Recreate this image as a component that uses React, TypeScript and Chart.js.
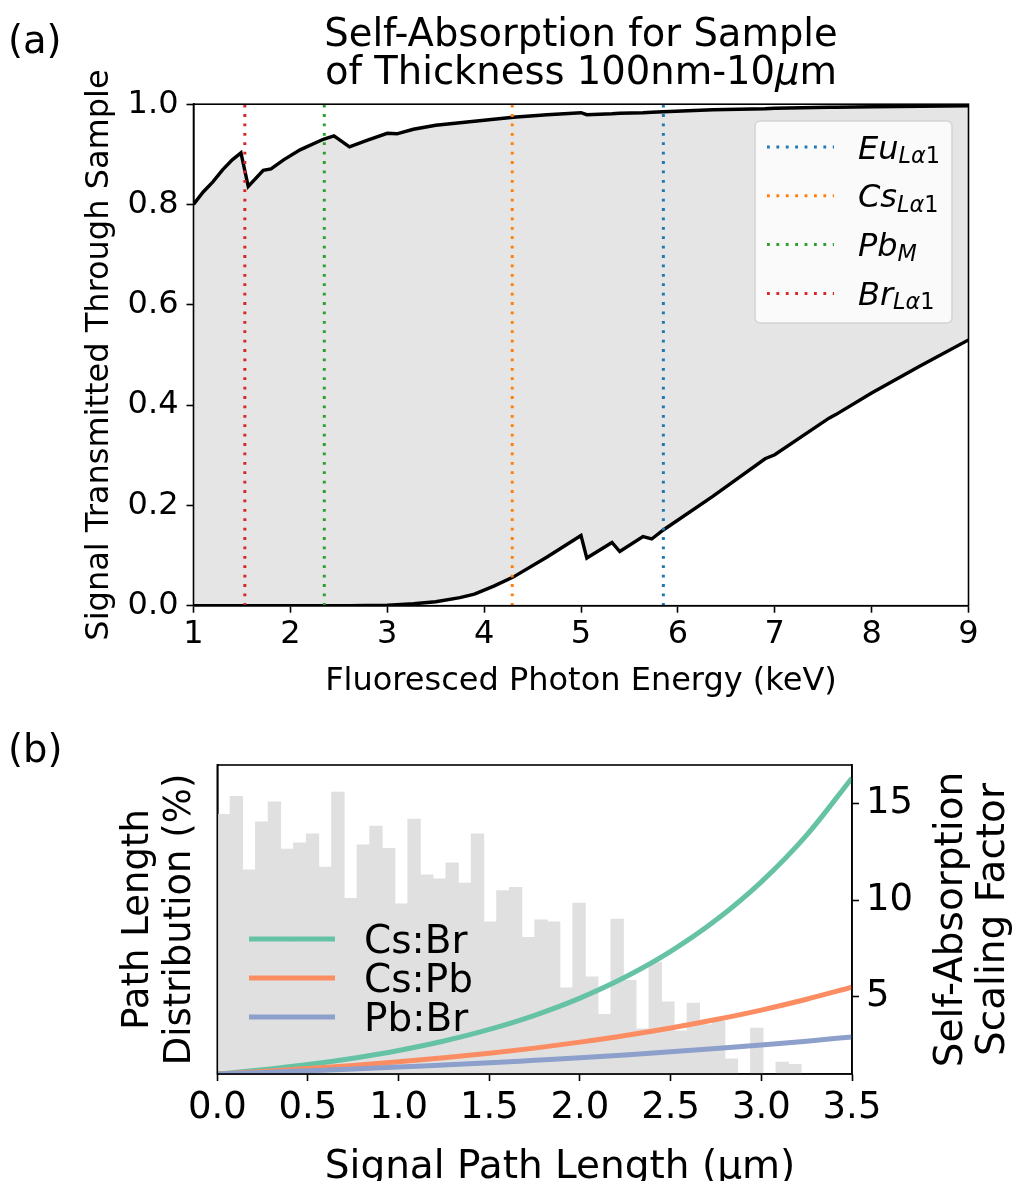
import React, { useEffect, useRef } from "react";
import { Chart, registerables } from "chart.js";
Chart.register(...registerables);

const FAM = "'DejaVu Sans', sans-serif";

// ---------- Panel (a) data ----------
const photonEnergy = [1.0, 1.1, 1.2, 1.3, 1.4, 1.49, 1.565, 1.72, 1.8, 1.93, 2.1, 2.34, 2.45, 2.61, 2.79, 3.0, 3.1, 3.27, 3.5, 3.75, 3.9, 4.1, 4.3, 4.65, 5.0, 5.06, 5.32, 5.4, 5.64, 5.73, 5.85, 6.36, 6.9, 7.0, 7.56, 7.63, 8.0, 8.5, 9.0];
const transmissionThin = [0.8, 0.825, 0.845, 0.869, 0.889, 0.903, 0.836, 0.868, 0.871, 0.889, 0.909, 0.93, 0.937, 0.915, 0.928, 0.942, 0.941, 0.95, 0.958, 0.963, 0.966, 0.97, 0.974, 0.979, 0.983, 0.979, 0.981, 0.982, 0.983, 0.984, 0.985, 0.989, 0.991, 0.992, 0.994, 0.994, 0.995, 0.996, 0.997];
const transmissionThick = [0, 0, 0, 0, 0, 0, 0, 0, 0, 0, 0, 0, 0, 0.0002, 0.0005, 0.001, 0.002, 0.004, 0.008, 0.016, 0.023, 0.039, 0.057, 0.097, 0.14, 0.095, 0.126, 0.108, 0.138, 0.133, 0.151, 0.218, 0.293, 0.301, 0.374, 0.381, 0.424, 0.478, 0.53];
const emissionElements = ["Eu", "Cs", "Pb", "Br"];
const emissionSubs = ["Lα1", "Lα1", "M", "Lα1"];
const emissionEnergies = [5.85, 4.29, 2.35, 1.53];
const emissionColors = ["#1f77b4", "#ff7f0e", "#2ca02c", "#d62728"];
const xTicksA = [1, 2, 3, 4, 5, 6, 7, 8, 9];
const yTicksA = [0, 0.2, 0.4, 0.6, 0.8, 1.0];

// ---------- Panel (b) data ----------
const binCenters = [0.035, 0.105, 0.175, 0.245, 0.315, 0.385, 0.455, 0.525, 0.595, 0.665, 0.735, 0.805, 0.875, 0.945, 1.015, 1.085, 1.155, 1.225, 1.295, 1.365, 1.435, 1.505, 1.575, 1.645, 1.715, 1.785, 1.855, 1.925, 1.995, 2.065, 2.135, 2.205, 2.275, 2.345, 2.415, 2.485, 2.555, 2.625, 2.695, 2.765, 2.835, 2.905, 2.975, 3.045, 3.115, 3.185, 3.255, 3.325, 3.395, 3.465];
const pathDistribution = [3.74, 4.0, 2.94, 3.63, 3.92, 3.24, 3.33, 3.46, 2.98, 4.06, 2.53, 3.3, 3.57, 3.25, 2.45, 3.67, 2.87, 2.81, 3.04, 2.75, 3.46, 2.19, 2.64, 2.69, 1.97, 2.22, 2.19, 1.24, 2.46, 1.4, 0.86, 2.23, 1.35, 0.65, 1.61, 1.04, 0.62, 1.02, 0.71, 0.76, 0.22, 0, 0.66, 0, 0.17, 0.14, 0, 0, 0, 0];
const pathGrid = [0, 0.25, 0.5, 0.75, 1.0, 1.25, 1.5, 1.75, 2.0, 2.25, 2.5, 2.75, 3.0, 3.25, 3.5];
const scaleCsBr = [1.0, 1.22, 1.49, 1.82, 2.22, 2.71, 3.31, 4.04, 4.93, 6.02, 7.35, 8.97, 10.95, 13.37, 16.33];
const scaleCsPb = [1.0, 1.13, 1.28, 1.44, 1.63, 1.84, 2.07, 2.34, 2.65, 2.99, 3.38, 3.82, 4.31, 4.87, 5.5];
const scalePbBr = [1.0, 1.08, 1.17, 1.26, 1.36, 1.47, 1.58, 1.71, 1.84, 1.99, 2.15, 2.32, 2.5, 2.7, 2.92];
const ratioNames = ["Cs:Br", "Cs:Pb", "Pb:Br"];
const ratioColors = ["#66c2a5", "#fc8d62", "#8da0cb"];
const xTicksB = [0, 0.5, 1.0, 1.5, 2.0, 2.5, 3.0, 3.5];
const y2TicksB = [5, 10, 15];

type Run = { t: string; f: string; dy?: number };
function drawRuns(ctx: CanvasRenderingContext2D, x: number, y: number, runs: Run[], align: "left" | "center") {
  let w = 0;
  for (const r of runs) { ctx.font = r.f; w += ctx.measureText(r.t).width; }
  let cx = align === "center" ? x - w / 2 : x;
  ctx.textAlign = "left";
  ctx.textBaseline = "alphabetic";
  for (const r of runs) {
    ctx.font = r.f;
    ctx.fillText(r.t, cx, y + (r.dy || 0));
    cx += ctx.measureText(r.t).width;
  }
}
function rotText(ctx: CanvasRenderingContext2D, text: string, x: number, y: number, font: string) {
  ctx.save();
  ctx.translate(x, y);
  ctx.rotate(-Math.PI / 2);
  ctx.font = font;
  ctx.textAlign = "center";
  ctx.textBaseline = "alphabetic";
  ctx.fillText(text, 0, 0);
  ctx.restore();
}
function frame(chart: any) {
  const { left, right, top, bottom } = chart.chartArea;
  const ctx = chart.ctx;
  ctx.save();
  ctx.strokeStyle = "#000";
  ctx.lineWidth = 1.6;
  ctx.strokeRect(left, top, right - left, bottom - top);
  ctx.restore();
}

const axisGrid = { drawOnChartArea: false, drawTicks: true, tickLength: 7, tickWidth: 1.6, tickColor: "#000", color: "#000" };

function topConfig(): any {
  const vlines = emissionEnergies.map((e, i) => ({
    data: [{ x: e, y: 0 }, { x: e, y: 1 }],
    borderColor: emissionColors[i],
    borderWidth: 3,
    borderDash: [2.8, 6.6],
    pointRadius: 0,
    fill: false,
  }));
  const upper = {
    data: photonEnergy.map((e, i) => ({ x: e, y: transmissionThin[i] })),
    borderColor: "#000",
    borderWidth: 3.4,
    pointRadius: 0,
    fill: "+1",
    backgroundColor: "#e5e5e5",
  };
  const lower = {
    data: photonEnergy.map((e, i) => ({ x: e, y: transmissionThick[i] })),
    borderColor: "#000",
    borderWidth: 3.4,
    pointRadius: 0,
    fill: false,
  };
  const legendPlugin = {
    id: "legendA",
    afterDatasetsDraw(chart: any) {
      const ctx = chart.ctx as CanvasRenderingContext2D;
      ctx.save();
      const bx = 755, by = 121, bw = 197, bh = 202, r = 5;
      ctx.beginPath();
      ctx.moveTo(bx + r, by);
      ctx.arcTo(bx + bw, by, bx + bw, by + bh, r);
      ctx.arcTo(bx + bw, by + bh, bx, by + bh, r);
      ctx.arcTo(bx, by + bh, bx, by, r);
      ctx.arcTo(bx, by, bx + bw, by, r);
      ctx.closePath();
      ctx.fillStyle = "rgba(255,255,255,0.8)";
      ctx.fill();
      ctx.strokeStyle = "#d4d4d4";
      ctx.lineWidth = 1.5;
      ctx.stroke();
      for (let i = 0; i < emissionElements.length; i++) {
        const ly = 147 + i * 48.8;
        ctx.beginPath();
        ctx.setLineDash([2.8, 6.6]);
        ctx.strokeStyle = emissionColors[i];
        ctx.lineWidth = 3;
        ctx.moveTo(767, ly);
        ctx.lineTo(834, ly);
        ctx.stroke();
        ctx.setLineDash([]);
        ctx.fillStyle = "#000";
        const sub = emissionSubs[i];
        const runs: Run[] = [{ t: emissionElements[i], f: `italic 32px ${FAM}` }];
        if (sub === "M") runs.push({ t: "M", f: `italic 22.4px ${FAM}`, dy: 4.5 });
        else {
          runs.push({ t: "Lα", f: `italic 22.4px ${FAM}`, dy: 4.5 });
          runs.push({ t: "1", f: `22.4px ${FAM}`, dy: 4.5 });
        }
        drawRuns(ctx, 858, ly + 11.5, runs, "left");
      }
      ctx.restore();
    },
    afterDraw(chart: any) {
      frame(chart);
      const ctx = chart.ctx as CanvasRenderingContext2D;
      ctx.save();
      ctx.fillStyle = "#000";
      drawRuns(ctx, 8, 53, [{ t: "(a)", f: `38.5px ${FAM}` }], "left");
      drawRuns(ctx, 581, 46, [{ t: "Self-Absorption for Sample", f: `38.5px ${FAM}` }], "center");
      drawRuns(ctx, 581, 84, [
        { t: "of Thickness 100nm-10", f: `38.5px ${FAM}` },
        { t: "μ", f: `italic 38.5px ${FAM}` },
        { t: "m", f: `38.5px ${FAM}` },
      ], "center");
      drawRuns(ctx, 581, 690, [{ t: "Fluoresced Photon Energy (keV)", f: `32px ${FAM}` }], "center");
      rotText(ctx, "Signal Transmitted Through Sample", 108, 355, `32px ${FAM}`);
      ctx.restore();
    },
  };
  return {
    type: "line",
    data: { datasets: [...vlines, upper, lower] },
    options: {
      responsive: false,
      animation: false,
      devicePixelRatio: 1,
      events: [],
      layout: { padding: { left: 0, right: 51.5, top: 104.2, bottom: 0 } },
      plugins: { legend: { display: false }, tooltip: { enabled: false }, filler: { drawTime: "beforeDatasetsDraw" } },
      elements: { line: { tension: 0 } },
      scales: {
        x: {
          type: "linear",
          min: 1,
          max: 9,
          afterBuildTicks: (s: any) => { s.ticks = xTicksA.map((v) => ({ value: v })); },
          ticks: { font: { family: FAM, size: 32 }, color: "#000", padding: 3, maxRotation: 0, autoSkip: false, callback: (v: any) => String(v) },
          grid: axisGrid,
          border: { display: true, color: "#000", width: 1.6 },
          afterFit: (s: any) => { s.height = 94.3; },
        },
        y: {
          type: "linear",
          min: 0,
          max: 1,
          afterBuildTicks: (s: any) => { s.ticks = yTicksA.map((v) => ({ value: v })); },
          ticks: { font: { family: FAM, size: 32 }, color: "#000", padding: 8, autoSkip: false, callback: (v: any) => Number(v).toFixed(1) },
          grid: axisGrid,
          border: { display: true, color: "#000", width: 1.6 },
          afterFit: (s: any) => { s.width = 193.5; },
        },
      },
    },
    plugins: [legendPlugin],
  };
}

function bottomConfig(): any {
  const lineData = [scaleCsBr, scaleCsPb, scalePbBr];
  // drawing order: blue on top, then orange, then green (matplotlib order)
  const lines = [2, 1, 0].map((k) => ({
    type: "line",
    data: pathGrid.map((x, i) => ({ x, y: lineData[k][i] })),
    yAxisID: "y2",
    borderColor: ratioColors[k],
    borderWidth: 5,
    pointRadius: 0,
    cubicInterpolationMode: "monotone",
    fill: false,
  }));
  const bars = {
    type: "bar",
    data: binCenters.map((x, i) => ({ x, y: pathDistribution[i] })),
    yAxisID: "y",
    backgroundColor: "#e0e0e0",
    borderWidth: 0,
    barPercentage: 1,
    categoryPercentage: 1,
  };
  const plugin = {
    id: "decoB",
    afterDatasetsDraw(chart: any) {
      const ctx = chart.ctx as CanvasRenderingContext2D;
      ctx.save();
      for (let i = 0; i < ratioNames.length; i++) {
        const ly = 239 + i * 39;
        ctx.beginPath();
        ctx.strokeStyle = ratioColors[i];
        ctx.lineWidth = 5;
        ctx.moveTo(249, ly);
        ctx.lineTo(335, ly);
        ctx.stroke();
        ctx.fillStyle = "#000";
        drawRuns(ctx, 364, ly + 14, [{ t: ratioNames[i], f: `39px ${FAM}` }], "left");
      }
      ctx.restore();
    },
    afterDraw(chart: any) {
      frame(chart);
      const ctx = chart.ctx as CanvasRenderingContext2D;
      ctx.save();
      ctx.fillStyle = "#000";
      drawRuns(ctx, 8, 62, [{ t: "(b)", f: `38.5px ${FAM}` }], "left");
      drawRuns(ctx, 560, 478, [{ t: "Signal Path Length (μm)", f: `39px ${FAM}` }], "center");
      rotText(ctx, "Path Length", 148, 219.5, `37px ${FAM}`);
      rotText(ctx, "Distribution (%)", 190, 219.5, `37px ${FAM}`);
      rotText(ctx, "Self-Absorption", 962, 219.5, `39px ${FAM}`);
      rotText(ctx, "Scaling Factor", 1004, 219.5, `39px ${FAM}`);
      ctx.restore();
    },
  };
  return {
    type: "bar",
    data: { datasets: [...lines, bars] },
    options: {
      responsive: false,
      animation: false,
      devicePixelRatio: 1,
      events: [],
      layout: { padding: { left: 0, right: 0, top: 65, bottom: 0 } },
      plugins: { legend: { display: false }, tooltip: { enabled: false } },
      scales: {
        x: {
          type: "linear",
          min: 0,
          max: 3.5,
          offset: false,
          afterBuildTicks: (s: any) => { s.ticks = xTicksB.map((v) => ({ value: v })); },
          ticks: { font: { family: FAM, size: 37 }, color: "#000", padding: 5, maxRotation: 0, autoSkip: false, callback: (v: any) => Number(v).toFixed(1) },
          grid: { ...axisGrid, offset: false },
          border: { display: true, color: "#000", width: 1.6 },
          afterFit: (s: any) => { s.height = 107; },
        },
        y: {
          type: "linear",
          position: "left",
          min: 0,
          max: 4.45,
          ticks: { display: false },
          grid: { drawOnChartArea: false, drawTicks: false },
          border: { display: true, color: "#000", width: 1.6 },
          afterFit: (s: any) => { s.width = 217.3; },
        },
        y2: {
          type: "linear",
          position: "right",
          min: 1,
          max: 17,
          afterBuildTicks: (s: any) => { s.ticks = y2TicksB.map((v) => ({ value: v })); },
          ticks: { font: { family: FAM, size: 37 }, color: "#000", padding: 7, autoSkip: false, callback: (v: any) => String(v) },
          grid: axisGrid,
          border: { display: true, color: "#000", width: 1.6 },
          afterFit: (s: any) => { s.width = 168; },
        },
      },
    },
    plugins: [plugin],
  };
}

export default function App() {
  const topRef = useRef<HTMLCanvasElement>(null);
  const botRef = useRef<HTMLCanvasElement>(null);
  useEffect(() => {
    const c1 = new Chart(topRef.current as HTMLCanvasElement, topConfig());
    const c2 = new Chart(botRef.current as HTMLCanvasElement, bottomConfig());
    return () => { c1.destroy(); c2.destroy(); };
  }, []);
  return (
    <div style={{ position: "absolute", left: 0, top: 0, width: 1020, height: 1181, background: "#fff", overflow: "hidden" }}>
      <canvas ref={topRef} width={1020} height={700} style={{ position: "absolute", left: 0, top: 0, width: 1020, height: 700 }} />
      <canvas ref={botRef} width={1020} height={481} style={{ position: "absolute", left: 0, top: 700, width: 1020, height: 481 }} />
    </div>
  );
}
